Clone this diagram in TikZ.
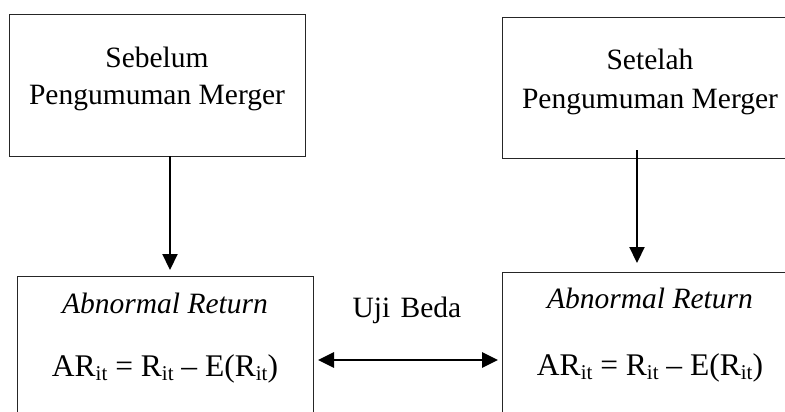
\documentclass[tikz,border=0pt]{standalone}
\usepackage{fontspec}
\setmainfont{Liberation Serif}
\usetikzlibrary{arrows.meta}
\newcommand{\subit}{\raisebox{-4.5pt}{\fontsize{21}{21}\selectfont it}}
\begin{document}
\begin{tikzpicture}[x=1pt,y=-1pt,
  boxstyle/.style={draw=black!85, line width=0.9pt, rectangle, inner sep=0pt},
  txt/.style={anchor=base, inner sep=0pt, font=\fontsize{29.5}{38}\selectfont},
  formula/.style={anchor=base, inner sep=0pt, font=\fontsize{31.5}{38}\selectfont},
  arr/.style={line width=2.2pt, -{Triangle[width=15pt,length=16pt]}},
  darr/.style={line width=2.8pt, {Triangle[width=15pt,length=16pt]}-{Triangle[width=15pt,length=16pt]}}]
\useasboundingbox (0,0) rectangle (785,412);
\clip (0,0) rectangle (785,412);
% boxes
\node[boxstyle, minimum width=296pt, minimum height=142pt] (b1) at (157,85) {};
\node[boxstyle, minimum width=296pt, minimum height=141pt] (b2) at (650,87.5) {};
\node[boxstyle, minimum width=296pt, minimum height=150pt] (b3) at (165,351) {};
\node[boxstyle, minimum width=296pt, minimum height=154pt] (b4) at (650,349) {};
% texts
\node[txt] (t1a) at (157,67) {Sebelum};
\node[txt] (t1b) at (157,105) {Pengumuman Merger};
\node[txt] (t2a) at (650,70) {Setelah};
\node[txt] (t2b) at (650,109) {Pengumuman Merger};
\node[txt] (t3a) at (165,313) {\itshape Abnormal Return};
\node[formula] (t3b) at (165,376) {AR\subit{} = R\subit{} – E(R\subit)};
\node[txt] (t4a) at (650,308) {\itshape Abnormal Return};
\node[formula] (t4b) at (650,375) {AR\subit{} = R\subit{} – E(R\subit)};
\node[txt] (uji) at (407,317) {Uji\hspace{3pt} Beda};
% connectors
\coordinate (a1s) at (170,156);
\coordinate (a1e) at (170,270);
\coordinate (a2s) at (637,150);
\coordinate (a2e) at (637,263);
\coordinate (dl) at (318,360);
\coordinate (dr) at (498,360);
\draw[arr] (a1s) -- (a1e);
\draw[arr] (a2s) -- (a2e);
\draw[darr] (dl) -- (dr);
\end{tikzpicture}
\end{document}
